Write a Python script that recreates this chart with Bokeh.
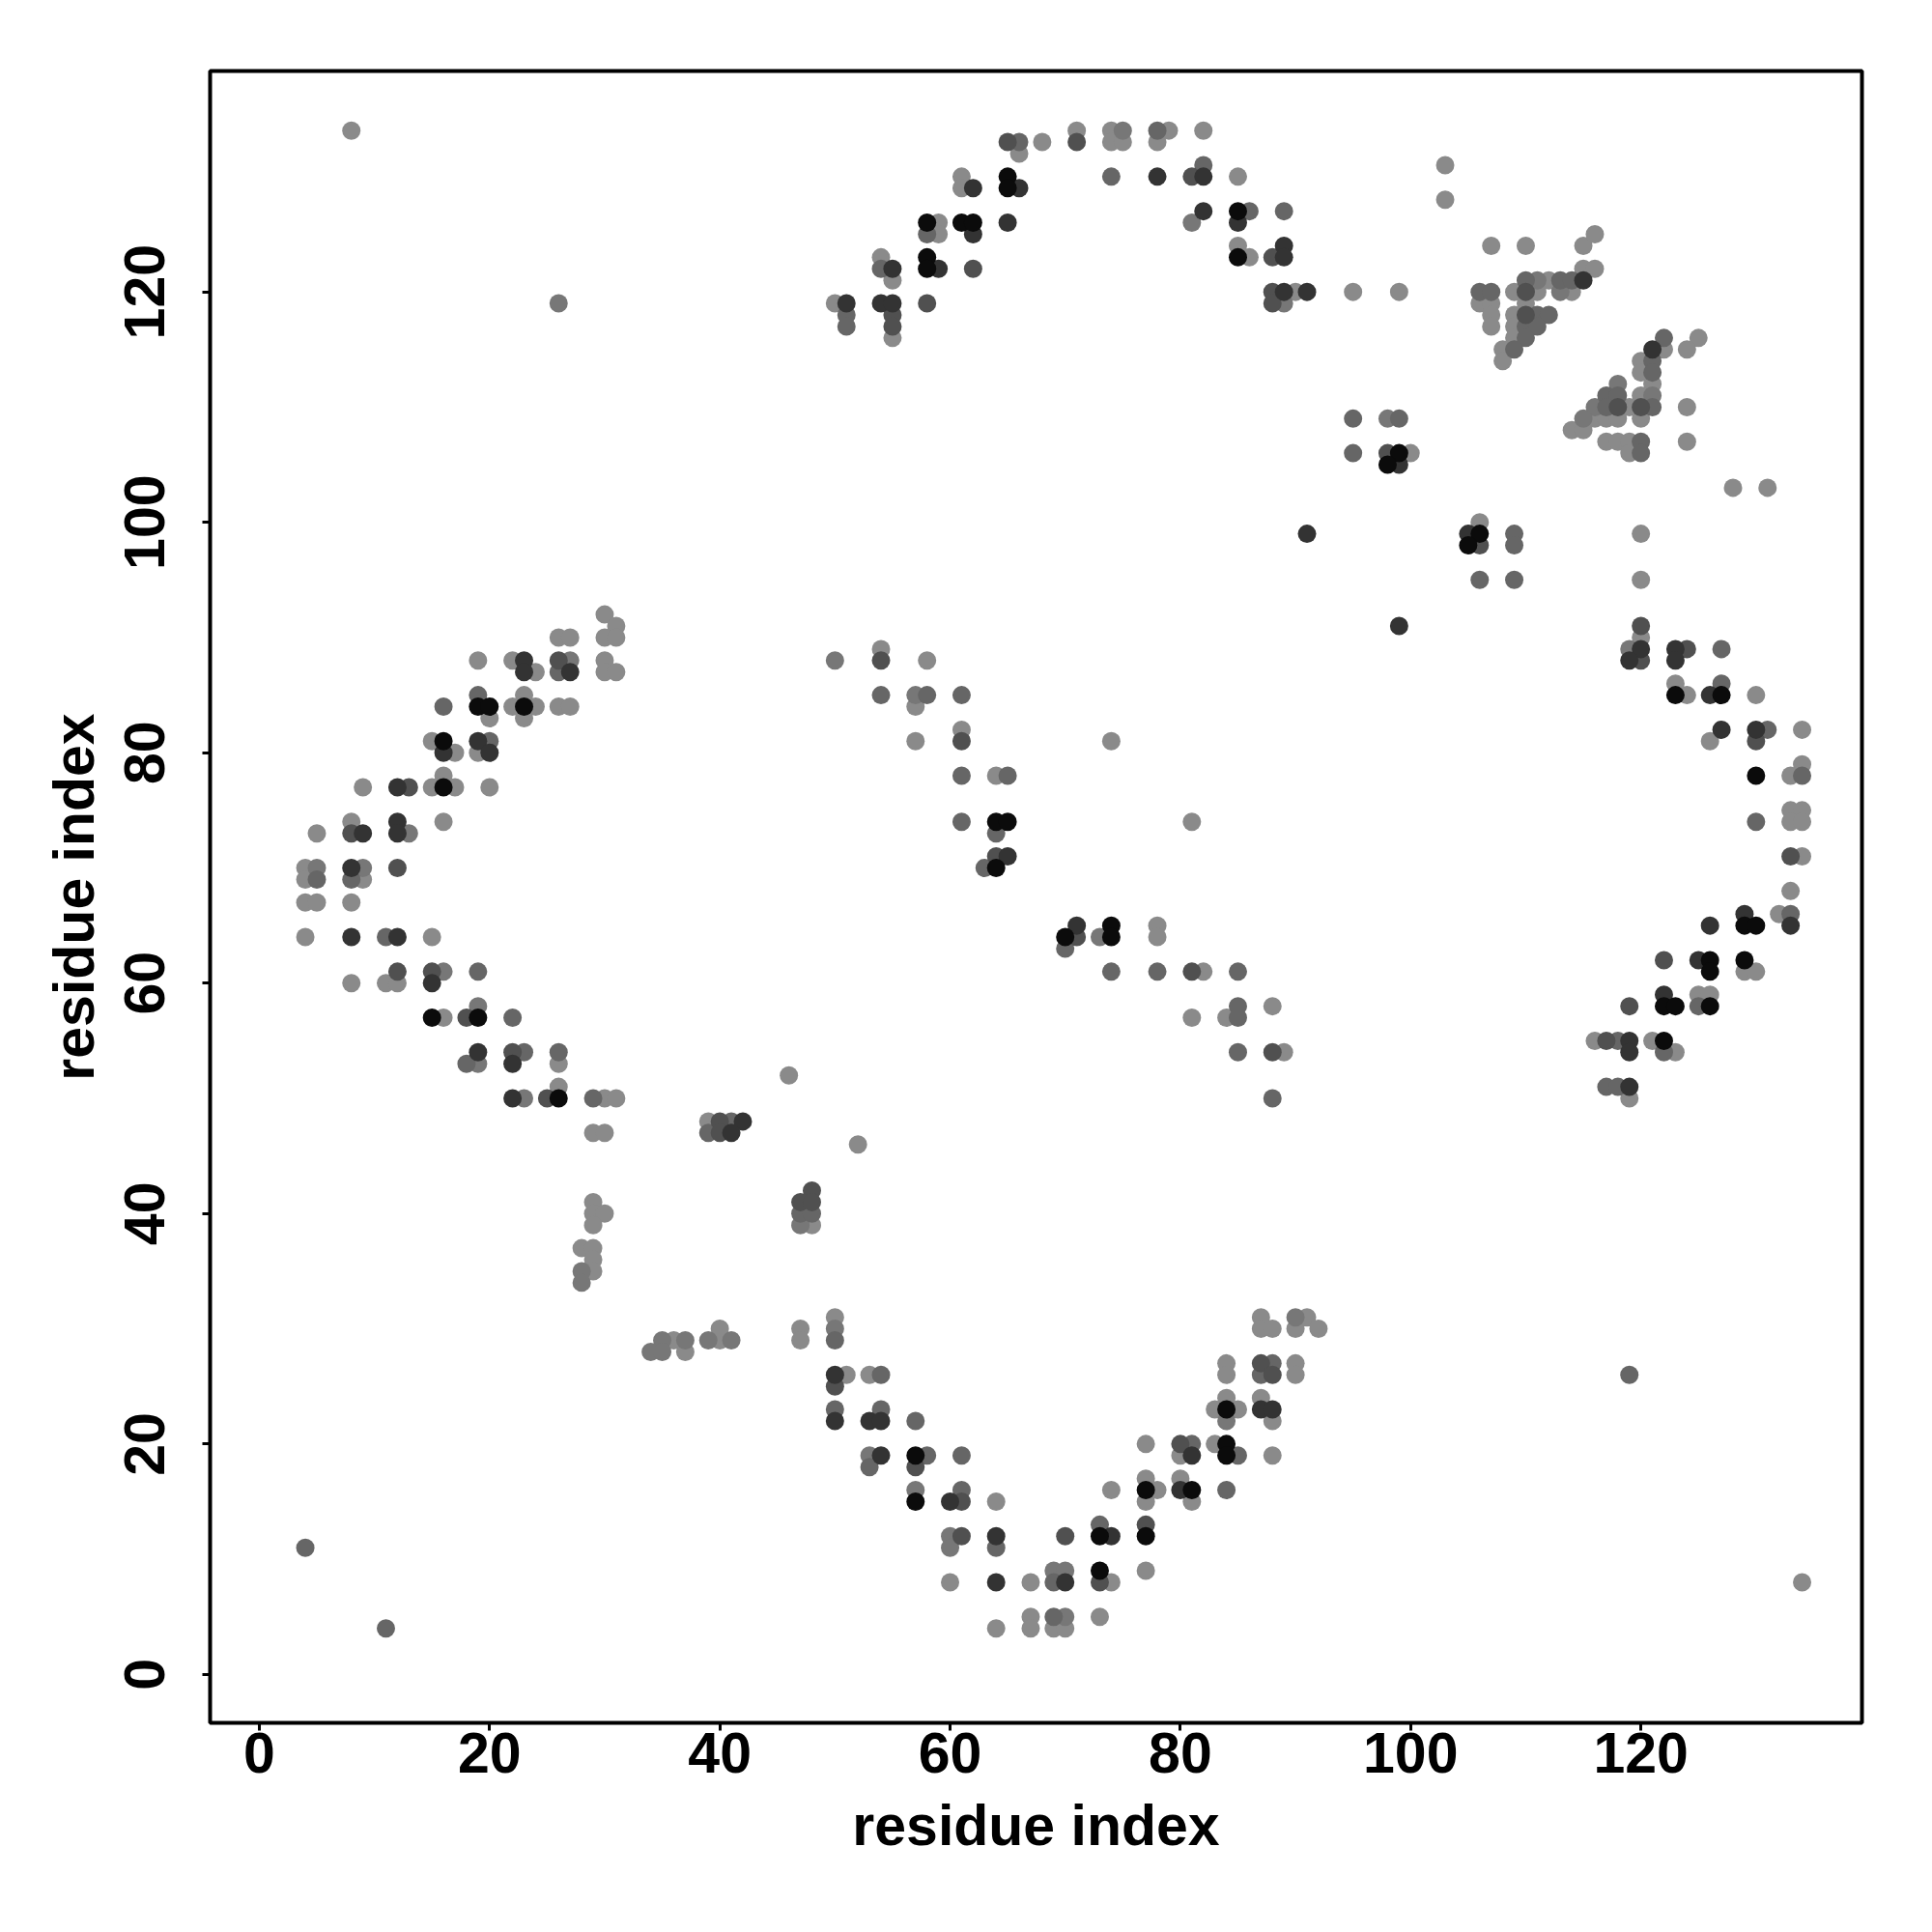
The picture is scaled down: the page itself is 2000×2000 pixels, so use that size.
from bokeh.plotting import figure
from bokeh.models import ColumnDataSource, LinearColorMapper, FixedTicker, Range1d
from bokeh.embed import file_html
from bokeh.resources import INLINE

# ---------------- data ----------------
axis_ticks = [0, 20, 40, 60, 80, 100, 120]
axis_title = "residue index"

# contact score of each shade class (higher = darker)
level_scores = {"light": 0.05, "medium_light": 0.18, "medium": 0.30,
                "dark_medium": 0.45, "dark": 0.65, "black": 0.92}

light_pts = [
    (8,134),(30,92),(31,91),(26,90),(27,90),(30,90),(31,90),(19,88),(22,88),(30,88),(24,87),(30,87),(31,87),
    (23,85),(22,84),(24,84),(26,84),(27,84),(20,83),(23,83),(15,81),(17,80),(19,80),(16,78),(9,77),(15,77),
    (17,77),(20,77),(8,74),(16,74),(5,73),(4,70),(4,69),(9,69),(4,67),(5,67),(8,67),(4,64),(15,64),(8,60),
    (11,60),(12,60),(16,57),(26,53),(26,51),(30,50),(31,50),(39,48),(29,47),(30,47),
    (29,41),(29,40),(30,40),(29,39),(28,37),(29,37),(29,36),(29,35),(36,29),(40,29),(37,28),(40,30),
    (52,46),(48,39),(47,30),(47,29),(50,31),(51,26),(53,26),(64,15),(60,8),(67,8),(74,8),(77,9),(64,4),
    (67,5),(67,4),(69,4),(70,4),(73,5),(74,16),(77,17),(78,16),(77,15),(80,17),(81,15),(77,20),(80,19),
    (83,20),(88,19),(84,24),(83,23),(85,23),(87,24),(88,22),(84,27),(84,26),(90,27),(90,26),(87,31),
    (87,30),(88,30),(90,30),(91,31),(92,30),(134,8),
    (71,134),(74,134),(79,134),(82,134),(68,133),(74,133),(75,133),(78,133),(66,132),(61,130),(85,130),
    (61,129),(59,126),(59,125),(54,123),(55,121),(85,124),(86,123),(90,120),(50,119),(55,116),
    (103,131),(103,128),(107,124),(110,124),(115,124),(116,125),(115,122),(116,122),(112,121),(95,120),
    (99,120),(109,120),(111,120),(114,120),(106,119),(107,119),(110,119),(107,118),(109,118),(107,117),
    (109,117),(109,116),(108,115),(108,114),(125,116),(122,115),(124,115),(120,114),(120,113),(121,112),
    (120,111),(119,110),(124,110),(116,109),(117,109),(118,109),(120,109),(114,108),(115,108),(117,107),
    (118,107),(119,107),(124,107),(119,106),(128,103),(131,103),(100,106),(106,100),(120,99),(120,95),
    (120,90),
    (54,89),(58,88),(57,84),(57,81),(61,82),(74,81),(64,78),(81,74),(78,65),(78,64),(82,61),(81,57),
    (84,57),(88,58),(89,54),(46,52),
    (123,86),(124,85),(130,85),(126,81),(134,82),(134,79),(133,78),(133,75),(134,75),(133,74),(134,74),
    (134,71),(133,68),(132,66),(129,61),(130,61),(125,59),(126,59),(116,55),(121,55),(123,54),(119,50),
]

medium_light_pts = [
    (26,119),(27,88),(13,73),(5,70),(9,70),(16,61),(19,58),(19,53),(23,50),
    (28,35),(28,34),(35,29),(37,29),(39,29),(41,29),(34,28),(35,28),
    (47,39),(50,30),(53,19),(57,16),(60,12),(60,11),(69,9),(70,9),(70,5),(84,22),(90,31),
    (75,134),(81,126),(89,119),
    (111,121),(113,120),(118,112),(121,111),(116,110),(115,109),(98,109),
    (50,88),(57,85),(73,64),(119,89),
]

medium_pts = [
    (26,87),(19,85),(16,84),(20,81),(5,69),(8,69),(11,64),(19,61),(22,57),(23,54),(26,54),(18,53),(29,50),
    (41,48),(39,47),(4,11),(11,4),
    (47,40),(48,40),(50,29),(54,26),(50,23),(54,23),(57,22),(53,18),(58,19),(61,19),(61,16),(64,11),(73,13),
    (69,8),(69,5),(84,16),(81,20),(85,19),(88,27),(87,26),(119,26),
    (78,134),(66,133),(82,131),(74,130),(86,127),(89,127),(58,125),(54,122),(51,118),(51,117),
    (110,121),(113,121),(114,121),(106,120),(107,120),(111,118),(112,118),(110,117),(111,117),(110,116),
    (109,115),(122,116),(121,114),(121,113),(117,111),(118,111),(117,110),(121,110),(120,107),(120,106),
    (95,109),(99,109),(95,106),(109,99),(109,98),(106,95),(109,95),
    (54,85),(58,85),(61,85),(61,78),(65,78),(61,74),(64,73),(63,70),(70,63),(74,61),(78,61),(85,61),
    (85,58),(85,57),(85,54),(88,50),
    (127,89),(127,86),(131,82),(134,78),(130,74),(133,66),(125,58),(122,54),(118,55),(117,51),(118,51),
]

dark_medium_pts = [
    (26,88),(13,77),(8,73),(12,70),(12,61),(15,61),(18,57),(22,54),(25,50),(40,48),(40,47),
    (48,42),(47,41),(48,41),(50,25),(57,18),(61,15),(61,12),(70,12),(77,13),(73,8),(80,20),(87,27),(88,26),
    (65,133),(71,133),(81,130),(62,122),(88,123),(88,120),(88,119),(55,118),(55,117),(58,119),
    (110,120),(110,118),(118,110),(120,110),(98,106),(106,98),(120,91),
    (54,88),(61,81),(64,71),(71,64),(81,61),(88,54),
    (120,88),(124,89),(130,81),(133,71),(122,62),(119,58),(117,55),
]

dark_pts = [
    (23,88),(23,87),(27,87),(19,81),(16,80),(20,80),(12,77),(12,74),(9,73),(12,73),(8,70),(8,64),(12,64),
    (15,60),(19,54),(22,53),(22,50),(42,48),(41,47),
    (50,26),(50,22),(53,22),(54,22),(54,19),(60,15),(64,12),(74,12),(64,8),(70,8),(80,16),(81,19),(87,23),
    (88,23),
    (78,130),(82,130),(62,129),(66,129),(82,127),(65,126),(85,126),(62,125),(55,122),(59,122),(89,124),
    (89,123),(89,120),(91,120),(51,119),(54,119),(55,119),(91,99),
    (115,121),(121,115),(99,105),(105,99),(99,91),(65,71),(71,65),
    (120,89),(119,88),(123,89),(123,88),(126,85),(127,82),(130,82),(129,66),(133,65),(126,65),(125,62),
    (122,59),(119,55),(119,54),(119,51),
]

black_pts = [
    (19,84),(20,84),(23,84),(16,81),(16,77),(15,57),(19,57),(26,50),
    (57,19),(57,15),(73,12),(77,12),(73,9),(77,16),(81,16),(84,20),(84,19),(84,23),
    (65,130),(65,129),(85,127),(58,126),(61,126),(62,126),(58,123),(58,122),(85,123),
    (99,106),(98,105),(106,99),(105,98),
    (64,74),(65,74),(64,70),(74,65),(70,64),(74,64),
    (123,85),(127,85),(130,78),(129,65),(130,65),(126,62),(126,61),(129,62),(122,58),(123,58),(126,58),(122,55),
]

# ---------------- build source ----------------
groups = [("light", light_pts), ("medium_light", medium_light_pts), ("medium", medium_pts),
          ("dark_medium", dark_medium_pts), ("dark", dark_pts), ("black", black_pts)]
xs, ys, scores = [], [], []
for name, pts in groups:
    for (i, j) in pts:
        xs.append(i)
        ys.append(j)
        scores.append(level_scores[name])
src = ColumnDataSource(dict(x=xs, y=ys, score=scores))

grays = ["#%02x%02x%02x" % (v, v, v) for v in range(145, -1, -1)]
mapper = LinearColorMapper(palette=grays, low=0.0, high=1.0)

FONT = "Liberation Sans"

p = figure(width=1984, height=1984,
           x_range=Range1d(-4.27, 139.2), y_range=Range1d(-4.2, 139.17),
           output_backend="svg", toolbar_location=None,
           min_border_left=217, min_border_right=57,
           min_border_top=73, min_border_bottom=201)
p.grid.visible = False
p.background_fill_color = "white"
p.border_fill_color = "white"
p.outline_line_color = "black"
p.outline_line_width = 4

p.scatter("x", "y", source=src, size=19,
          fill_color={"field": "score", "transform": mapper}, line_color=None)

for ax in (p.xaxis[0], p.yaxis[0]):
    ax.ticker = FixedTicker(ticks=axis_ticks)
    ax.axis_line_color = None
    ax.major_tick_in = 0
    ax.major_tick_out = 8
    ax.major_tick_line_width = 3
    ax.major_tick_line_color = "black"
    ax.minor_tick_in = 0
    ax.minor_tick_out = 0
    ax.major_label_text_font = FONT
    ax.major_label_text_font_style = "bold"
    ax.major_label_text_font_size = "59px"
    ax.major_label_text_color = "black"
    ax.axis_label = axis_title
    ax.axis_label_text_font = FONT
    ax.axis_label_text_font_style = "bold"
    ax.axis_label_text_font_size = "59px"
    ax.axis_label_text_color = "black"

p.xaxis.major_label_standoff = 2
p.xaxis.axis_label_standoff = 19
p.yaxis.major_label_orientation = "vertical"
p.yaxis.major_label_standoff = 39
p.yaxis.axis_label_standoff = 17

open("out.html", "w").write(file_html(p, INLINE))
